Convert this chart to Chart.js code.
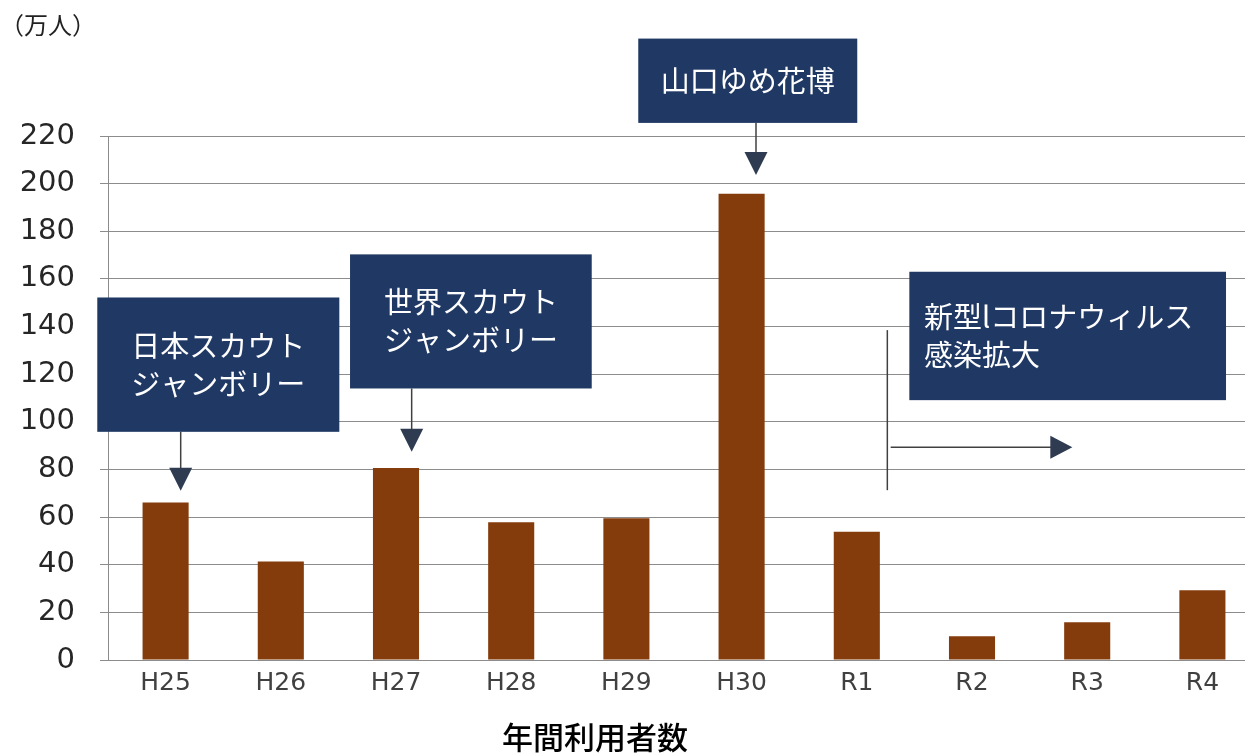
<!DOCTYPE html>
<html>
<head>
<meta charset="utf-8">
<script src="https://cdn.jsdelivr.net/npm/chart.js@4.4.0/dist/chart.umd.min.js"></script>
<style>
body{ margin:0; background:#fff; }
</style>
</head>
<body>
<canvas id="users-chart" width="1252" height="754"></canvas>
<script>
var years = ['H25', 'H26', 'H27', 'H28', 'H29', 'H30', 'R1', 'R2', 'R3', 'R4'];
var users = [66.1, 41.4, 80.6, 57.8, 59.5, 195.8, 53.8, 10, 15.8, 29.3];
var yTicks = [0, 20, 40, 60, 80, 100, 120, 140, 160, 180, 200, 220];
var unitLabel = '（万人）';
var chartTitle = '年間利用者数';

// call-out boxes, x in category index units, y in chart values
var notes = [
    { x1: -0.593, x2: 1.508, y1: 152.2, y2: 95.8, lines: ['日本スカウト', 'ジャンボリー'], align: 'center', arrowX: 0.131, arrowTo: 71.1 },
    { x1: 1.601, x2: 3.699, y1: 170.3, y2: 114.0, lines: ['世界スカウト', 'ジャンボリー'], align: 'center', arrowX: 2.136, arrowTo: 87.4 },
    { x1: 4.103, x2: 6.004, y1: 260.9, y2: 225.5, lines: ['山口ゆめ花博'], align: 'center', arrowX: 5.125, arrowTo: 203.6 },
    { x1: 6.456, x2: 9.205, y1: 163.0, y2: 109.1, lines: ['新型lコロナウィルス', '感染拡大'], align: 'left', textX: 6.583 }
];
var covidMark = { lineX: 6.265, top: 138.5, bottom: 71.3, arrowY: 89.3, arrowFrom: 6.294, arrowTo: 7.871 };

function downTriangle(ctx, x, tipY){
    ctx.beginPath();
    ctx.moveTo(x - 11.5, tipY - 23);
    ctx.lineTo(x + 11.5, tipY - 23);
    ctx.lineTo(x, tipY);
    ctx.closePath();
    ctx.fill();
}

// categories in the original run a bit past the right end of the gridlines
var widenPlugin = {
    id: 'widen',
    afterLayout: function(chart){
        var xs = chart.scales.x;
        xs.right = xs.right + 15;
        xs.width = xs.right - xs.left;
        xs.configure();
    }
};

var notesPlugin = {
    id: 'notes',
    afterDraw: function(chart){
        var ctx = chart.ctx;
        var xs = chart.scales.x;
        var ys = chart.scales.y;
        ctx.save();

        notes.map(function(n){
            var left = xs.getPixelForValue(n.x1);
            var right = xs.getPixelForValue(n.x2);
            var top = ys.getPixelForValue(n.y1);
            var bottom = ys.getPixelForValue(n.y2);

            if(n.arrowX !== undefined){
                var ax = xs.getPixelForValue(n.arrowX);
                var tip = ys.getPixelForValue(n.arrowTo);
                ctx.strokeStyle = '#404040';
                ctx.lineWidth = 1.5;
                ctx.beginPath();
                ctx.moveTo(ax, bottom);
                ctx.lineTo(ax, tip - 22);
                ctx.stroke();
                ctx.fillStyle = '#2e3b50';
                downTriangle(ctx, ax, tip);
            }

            ctx.fillStyle = '#203864';
            ctx.fillRect(left, top, right - left, bottom - top);

            ctx.fillStyle = '#ffffff';
            ctx.font = '29px "Noto Sans CJK JP"';
            ctx.textBaseline = 'middle';
            var lh = 38;
            var cy = (top + bottom) / 2 - (n.lines.length - 1) * lh / 2;
            var tx;
            if(n.align == 'left'){
                ctx.textAlign = 'left';
                tx = xs.getPixelForValue(n.textX);
            } else {
                ctx.textAlign = 'center';
                tx = (left + right) / 2;
            }
            for(var i = 0; i < n.lines.length; i++){
                ctx.fillText(n.lines[i], tx, cy + i * lh);
            }
        });

        // covid marker: vertical bar + right arrow
        var vx = xs.getPixelForValue(covidMark.lineX);
        ctx.strokeStyle = '#404040';
        ctx.lineWidth = 1.5;
        ctx.beginPath();
        ctx.moveTo(vx, ys.getPixelForValue(covidMark.top));
        ctx.lineTo(vx, ys.getPixelForValue(covidMark.bottom));
        ctx.stroke();
        var hy = ys.getPixelForValue(covidMark.arrowY);
        var hx1 = xs.getPixelForValue(covidMark.arrowFrom);
        var hx2 = xs.getPixelForValue(covidMark.arrowTo);
        ctx.beginPath();
        ctx.moveTo(hx1, hy);
        ctx.lineTo(hx2 - 20, hy);
        ctx.stroke();
        ctx.fillStyle = '#2e3b50';
        ctx.beginPath();
        ctx.moveTo(hx2 - 22, hy - 11.5);
        ctx.lineTo(hx2 - 22, hy + 11.5);
        ctx.lineTo(hx2, hy);
        ctx.closePath();
        ctx.fill();

        // unit + title
        ctx.fillStyle = '#222222';
        ctx.font = '24px "Noto Sans CJK JP"';
        ctx.textAlign = 'left';
        ctx.textBaseline = 'middle';
        ctx.fillText(unitLabel, 0, 25);

        ctx.fillStyle = '#000000';
        ctx.font = '500 31px "Noto Sans CJK JP"';
        ctx.textAlign = 'center';
        ctx.fillText(chartTitle, 595, 737);
        ctx.restore();
    }
};

var myChart = new Chart(document.getElementById('users-chart'), {
    type: 'bar',
    data: {
        labels: years,
        datasets: [
            {
                label: chartTitle,
                data: users,
                backgroundColor: '#843c0c',
                categoryPercentage: 1,
                barPercentage: 0.4
            }
        ]
    },
    options: {
        responsive: false,
        animation: false,
        layout: { padding: { top: 136, right: 7, bottom: 0, left: 0 } },
        plugins: {
            legend: { display: false },
            tooltip: { enabled: false }
        },
        scales: {
            x: {
                grid: { display: false, drawTicks: false },
                border: { display: false },
                ticks: {
                    padding: 8,
                    color: '#404040',
                    font: { family: 'DejaVu Sans', size: 25 }
                },
                afterFit: function(scale){ scale.height = 94; }
            },
            y: {
                min: 0,
                max: 220,
                afterBuildTicks: function(scale){
                    scale.ticks = yTicks.map(function(v){ return { value: v }; });
                },
                grid: { color: '#8c8c8c', lineWidth: 1, tickLength: 8 },
                border: { color: '#8c8c8c' },
                ticks: {
                    padding: 25,
                    color: '#262626',
                    font: { family: 'DejaVu Sans', size: 29 }
                },
                afterFit: function(scale){ scale.width = 108; }
            }
        }
    },
    plugins: [widenPlugin, notesPlugin]
});
</script>
</body>
</html>
